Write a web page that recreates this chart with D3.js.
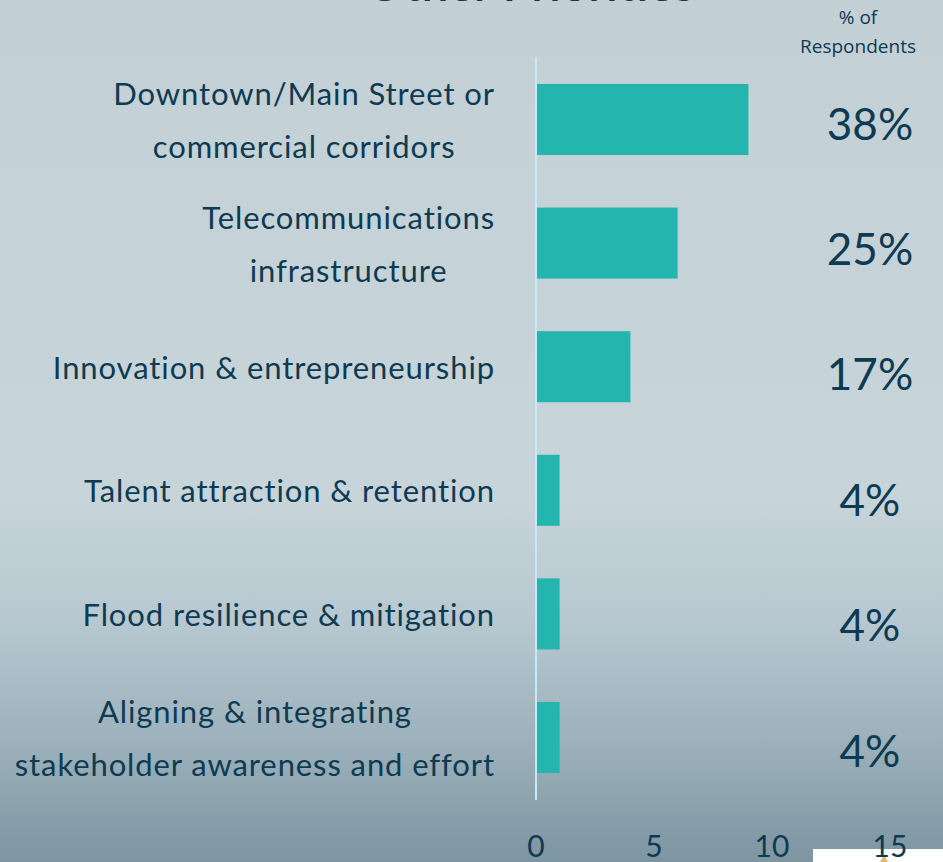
<!DOCTYPE html>
<html>
<head>
<meta charset="utf-8">
<script src="https://cdn.jsdelivr.net/npm/d3@7"></script>
<style>
  html, body { margin: 0; padding: 0; overflow: hidden; }
  svg { display: block; }
</style>
</head>
<body>
<div id="chart"></div>
<script>
// data
const categories = [
  ["Downtown/Main Street or", "commercial corridors"],
  ["Telecommunications", "infrastructure"],
  ["Innovation & entrepreneurship"],
  ["Talent attraction & retention"],
  ["Flood resilience & mitigation"],
  ["Aligning & integrating", "stakeholder awareness and effort"]
];
const counts = [9, 6, 4, 1, 1, 1];
const percents = ["38%", "25%", "17%", "4%", "4%", "4%"];
const xTicks = [0, 5, 10, 15];

const W = 943, H = 862;
const ink = "#0e3a52";
const labelFont = "Lato, 'Open Sans', sans-serif";

const svg = d3
  .select("#chart")
  .append("svg")
  .attr("width", W)
  .attr("height", H);

// background gradient
const grad = svg.append("defs").append("linearGradient")
  .attr("id", "bg").attr("x1", 0).attr("y1", 0).attr("x2", 0).attr("y2", 1);
grad.append("stop").attr("offset", "0%").attr("stop-color", "#c3d0d6");
grad.append("stop").attr("offset", "58%").attr("stop-color", "#c7d4da");
grad.append("stop").attr("offset", "72%").attr("stop-color", "#b7c8d0");
grad.append("stop").attr("offset", "86%").attr("stop-color", "#9cb1bb");
grad.append("stop").attr("offset", "100%").attr("stop-color", "#7d95a1");
svg.append("rect").attr("width", W).attr("height", H).attr("fill", "url(#bg)");

// white patch in the bottom-right corner of the original
svg.append("rect")
  .attr("x", 813).attr("y", 849)
  .attr("width", 130).attr("height", 13)
  .attr("fill", "#ffffff");
svg.append("path")
  .attr("d", "M880,862 L884,855 L888,862 Z")
  .attr("fill", "#e8b86a");

// scales
const x = d3.scaleLinear().domain([0, 15]).range([536, 890]);
const y = d3.scaleBand()
  .domain(d3.range(categories.length))
  .range([57.7, 799.3])
  .paddingInner(0.425)
  .paddingOuter(0.2125);

// title (mostly cut off by the top edge)
svg.append("text")
  .attr("x", 530)
  .attr("y", 1)
  .attr("text-anchor", "middle")
  .style("font-family", labelFont)
  .style("font-size", "48px")
  .style("font-weight", 600)
  .style("fill", ink)
  .text("Other Priorities");

// column header
svg.append("text")
  .attr("x", 858)
  .attr("text-anchor", "middle")
  .style("font-family", "'Open Sans', sans-serif")
  .style("font-size", "19px")
  .style("fill", ink)
  .selectAll("tspan")
  .data(["% of", "Respondents"])
  .join("tspan")
  .attr("x", 858)
  .attr("y", (d, i) => 24 + i * 29)
  .text(d => d);

// bars
svg.selectAll("rect.bar")
  .data(counts)
  .join("rect")
  .attr("class", "bar")
  .attr("x", x(0))
  .attr("y", (d, i) => y(i))
  .attr("width", d => x(d) - x(0))
  .attr("height", y.bandwidth())
  .attr("fill", "#24b5ae");

// axis line
svg.append("line")
  .attr("x1", x(0)).attr("x2", x(0))
  .attr("y1", 57).attr("y2", 800)
  .attr("stroke", "#c4e9f7")
  .attr("stroke-width", 2);

// category labels: lines centred on each other, block right-aligned at 495
const labels = svg.selectAll("g.label")
  .data(categories)
  .join("g")
  .attr("class", "label");

labels.each(function (lines, i) {
  const g = d3.select(this);
  const cy = y(i) + y.bandwidth() / 2;
  const txt = g.selectAll("text")
    .data(lines)
    .join("text")
    .attr("text-anchor", "middle")
    .attr("dominant-baseline", "central")
    .style("font-family", labelFont)
    .style("font-size", "31px")
    .style("letter-spacing", "0.9px")
    .style("fill", ink)
    .attr("y", (d, j) => cy + (j - (lines.length - 1) / 2) * 53)
    .text(d => d);
  let maxW = 0;
  txt.each(function () { maxW = Math.max(maxW, this.getComputedTextLength()); });
  txt.attr("x", 495 - maxW / 2);
});

// percent labels
svg.selectAll("text.pct")
  .data(percents)
  .join("text")
  .attr("class", "pct")
  .attr("x", 870)
  .attr("y", (d, i) => y(i) + y.bandwidth() / 2 + 3 + i * 1.8)
  .attr("text-anchor", "middle")
  .attr("dominant-baseline", "central")
  .style("font-family", labelFont)
  .style("font-size", "44px")
  .style("fill", ink)
  .text(d => d);

// x tick labels
svg.selectAll("text.tick")
  .data(xTicks)
  .join("text")
  .attr("class", "tick")
  .attr("x", d => x(d))
  .attr("y", 857)
  .attr("text-anchor", "middle")
  .style("font-family", labelFont)
  .style("font-size", "30px")
  .style("fill", ink)
  .text(d => d);
</script>
</body>
</html>
